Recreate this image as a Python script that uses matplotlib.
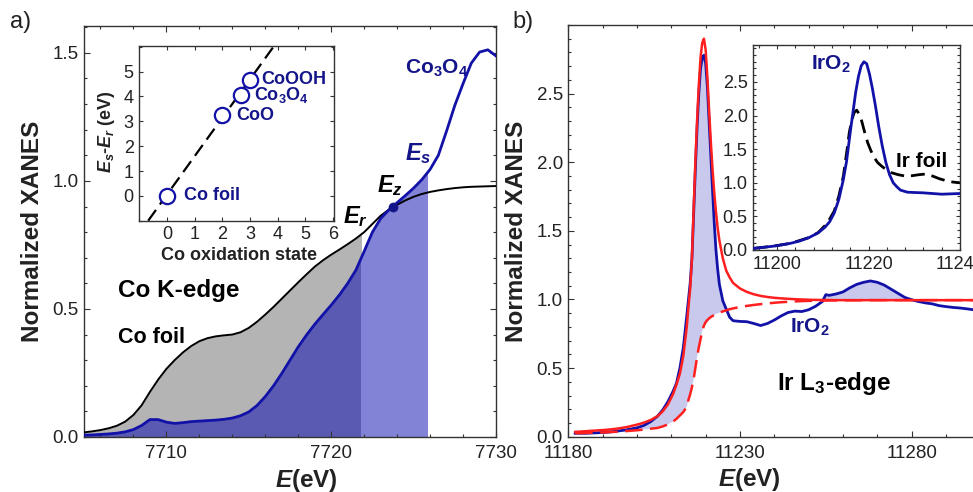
import numpy as np
import matplotlib
matplotlib.use("Agg")
import matplotlib.pyplot as plt
from matplotlib.ticker import MultipleLocator, FixedLocator
from matplotlib.patches import Rectangle

plt.rcParams['font.family'] = ['Liberation Sans', 'DejaVu Sans']
plt.rcParams['mathtext.fontset'] = 'custom'
plt.rcParams['mathtext.rm'] = 'Liberation Sans:bold'
plt.rcParams['mathtext.bf'] = 'Liberation Sans:bold'
plt.rcParams['mathtext.it'] = 'Liberation Sans:italic:bold'

# ---------------- a) Co K-edge ----------------
energy_co = np.arange(7705.0, 7730.01, 0.5)
co_foil = [0.018, 0.022, 0.027, 0.034, 0.044, 0.060, 0.086, 0.124, 0.176, 0.224,
           0.266, 0.300, 0.330, 0.355, 0.374, 0.386, 0.393, 0.397, 0.400, 0.409,
           0.426, 0.450, 0.478, 0.508, 0.540, 0.572, 0.604, 0.635, 0.665, 0.690,
           0.712, 0.732, 0.753, 0.775, 0.800, 0.832, 0.864, 0.888, 0.907, 0.924,
           0.938, 0.949, 0.957, 0.963, 0.968, 0.972, 0.975, 0.977, 0.978, 0.979,
           0.980]
co3o4 = [0.007, 0.008, 0.010, 0.012, 0.015, 0.020, 0.029, 0.045, 0.068, 0.068,
         0.058, 0.053, 0.056, 0.060, 0.062, 0.064, 0.066, 0.069, 0.074, 0.083,
         0.098, 0.123, 0.158, 0.200, 0.248, 0.300, 0.352, 0.398, 0.440, 0.478,
         0.515, 0.555, 0.600, 0.652, 0.725, 0.800, 0.853, 0.887, 0.915, 0.943,
         0.972, 1.005, 1.045, 1.100, 1.195, 1.295, 1.380, 1.460, 1.503, 1.512,
         1.488]
E_r, E_s = 7721.8, 7725.8
E_z, xanes_z = 7723.75, 0.898

# inset: edge shift vs oxidation state
ox_state = [0, 2, 2.67, 3]
shift = [0.0, 3.25, 4.07, 4.66]
ox_names = ['Co foil', 'CoO', 'Co$_3$O$_4$', 'CoOOH']
fit_x = [-0.68, 3.85]
fit_y = [-1.0, 6.0]

# ---------------- b) Ir L3-edge ----------------
energy_ir = [11182, 11185, 11188, 11191, 11194, 11197, 11200, 11202, 11204, 11206,
             11207.5, 11209, 11210.5, 11211.5, 11212.5, 11213.5, 11214.5, 11215, 11215.5, 11216,
             11216.5, 11217, 11217.5, 11218, 11218.5, 11219, 11219.5, 11220, 11220.5, 11221,
             11221.5, 11222, 11222.5, 11223, 11223.5, 11224, 11225, 11226, 11226.5, 11227,
             11228, 11230, 11232, 11234, 11236, 11238, 11240, 11242, 11244, 11246,
             11248, 11250, 11252, 11254, 11255, 11256, 11258, 11260, 11262, 11264,
             11266, 11268, 11270, 11272, 11274, 11276, 11278, 11280, 11282, 11284,
             11286, 11288, 11290, 11292, 11294, 11296, 11298, 11300]
iro2 = [0.025, 0.025, 0.028, 0.032, 0.040, 0.050, 0.065, 0.082, 0.110, 0.150,
        0.195, 0.255, 0.330, 0.390, 0.500, 0.650, 0.880, 1.000, 1.120, 1.300,
        1.620, 1.950, 2.250, 2.500, 2.680, 2.760, 2.780, 2.720, 2.550, 2.300,
        2.050, 1.800, 1.560, 1.360, 1.220, 1.110, 0.990, 0.930, 0.900, 0.870,
        0.845, 0.840, 0.838, 0.825, 0.810, 0.825, 0.850, 0.880, 0.905, 0.915,
        0.912, 0.925, 0.950, 0.985, 1.035, 1.030, 1.040, 1.055, 1.085, 1.110,
        1.125, 1.135, 1.125, 1.105, 1.075, 1.045, 1.015, 0.998, 0.985, 0.975,
        0.968, 0.955, 0.948, 0.942, 0.938, 0.932, 0.925, 0.915]
fit_total = [0.035, 0.040, 0.045, 0.050, 0.058, 0.070, 0.088, 0.102, 0.122, 0.150,
             0.185, 0.235, 0.310, 0.380, 0.460, 0.590, 0.800, 0.950, 1.080, 1.300,
             1.650, 2.000, 2.300, 2.560, 2.760, 2.870, 2.900, 2.820, 2.620, 2.380,
             2.150, 1.950, 1.780, 1.640, 1.520, 1.430, 1.300, 1.210, 1.185, 1.160,
             1.120, 1.080, 1.055, 1.038, 1.026, 1.018, 1.012, 1.008, 1.005, 1.002,
             1.000, 0.998, 0.997, 0.996, 0.996, 0.996, 0.995, 0.995, 0.995, 0.995,
             0.995, 0.995, 0.995, 0.995, 0.995, 0.995, 0.995, 0.995, 0.995, 0.995,
             0.995, 0.995, 0.995, 0.995, 0.995, 0.995, 0.995, 0.995]
fit_step = [0.025, 0.027, 0.029, 0.032, 0.036, 0.041, 0.047, 0.052, 0.058, 0.064,
            0.075, 0.090, 0.110, 0.130, 0.155, 0.180, 0.220, 0.270, 0.310, 0.360,
            0.420, 0.500, 0.580, 0.650, 0.710, 0.770, 0.810, 0.835, 0.850, 0.862,
            0.872, 0.880, 0.887, 0.893, 0.899, 0.904, 0.913, 0.921, 0.925, 0.929,
            0.935, 0.945, 0.953, 0.960, 0.966, 0.971, 0.976, 0.980, 0.983, 0.986,
            0.988, 0.990, 0.991, 0.992, 0.992, 0.993, 0.993, 0.994, 0.994, 0.994,
            0.995, 0.995, 0.995, 0.995, 0.995, 0.995, 0.995, 0.995, 0.995, 0.995,
            0.995, 0.995, 0.995, 0.995, 0.995, 0.995, 0.995, 0.995]

# inset b: IrO2 vs Ir foil
e_in_iro2 = [11195, 11197, 11199, 11201, 11203, 11205, 11207, 11209, 11210.5, 11211.5,
             11212.5, 11213.5, 11214.5, 11215.2, 11216, 11216.6, 11217.2, 11217.8, 11218.4, 11219,
             11219.6, 11220.2, 11220.8, 11221.5, 11222.2, 11223, 11223.8, 11224.6, 11225.4, 11226.2,
             11227, 11228.5, 11230, 11232, 11234, 11236, 11238, 11240]
in_iro2 = [0.025, 0.040, 0.055, 0.075, 0.100, 0.135, 0.185, 0.255, 0.340, 0.420,
           0.550, 0.750, 1.050, 1.320, 1.750, 2.050, 2.350, 2.580, 2.740, 2.800,
           2.770, 2.620, 2.420, 2.150, 1.850, 1.550, 1.300, 1.120, 1.000, 0.940,
           0.890, 0.860, 0.855, 0.850, 0.840, 0.830, 0.835, 0.840]
e_in_foil = [11195, 11199, 11203, 11207, 11209, 11211, 11212.5, 11213.5, 11214.5, 11215.2,
             11215.8, 11216.4, 11216.9, 11217.4, 11217.9, 11218.5, 11219.2, 11219.8, 11220.5, 11221.2,
             11222, 11223, 11224, 11225, 11226.5, 11228, 11229.5, 11231, 11232.5, 11234,
             11235.5, 11237, 11238.5, 11240]
in_foil = [0.025, 0.055, 0.100, 0.185, 0.260, 0.400, 0.580, 0.800, 1.100, 1.440,
           1.750, 1.950, 2.050, 2.080, 2.030, 1.920, 1.740, 1.600, 1.480, 1.380,
           1.300, 1.240, 1.190, 1.150, 1.120, 1.100, 1.105, 1.120, 1.130, 1.100,
           1.060, 1.030, 1.010, 1.000]

BLUE = '#1212a8'
NAVY = '#15158a'
RED = '#ff1f1f'
TXT = '#222222'


def style_axes(ax, size=13.5):
    for sp in ax.spines.values():
        sp.set_color('#333333')
        sp.set_linewidth(1.0)
    ax.tick_params(which='both', direction='in', top=True, right=True,
                   colors='#333333', labelcolor=TXT, labelsize=size, width=0.8)
    ax.tick_params(which='major', length=4.5, pad=6)
    ax.tick_params(which='minor', length=2.5)


fig = plt.figure(figsize=(9.73, 4.92), dpi=100)

# ---- panel a ----
ax1 = fig.add_axes([0.0863, 0.1118, 0.4235, 0.8354])
style_axes(ax1)
ax1.tick_params(axis='y', which='major', pad=4)
ax1.set_xlim(7705, 7730)
ax1.set_ylim(0, 1.605)
ax1.xaxis.set_major_locator(FixedLocator([7710, 7720, 7730]))
ax1.xaxis.set_minor_locator(MultipleLocator(2))
ax1.yaxis.set_major_locator(FixedLocator([0.0, 0.5, 1.0, 1.5]))
ax1.yaxis.set_minor_locator(MultipleLocator(0.1))
ax1.yaxis.set_major_formatter(plt.FormatStrFormatter('%.1f'))

f_gray = ax1.fill_between(energy_co, co3o4, co_foil, color='#b4b4b4', lw=0, zorder=1)
f_dark = ax1.fill_between(energy_co, 0, co3o4, color='#5a5ab2', lw=0, zorder=1)
f_light = ax1.fill_between(energy_co, 0, co3o4, color='#8282d6', lw=0, zorder=1)
f_gray.set_clip_path(Rectangle((7700, -1), E_r - 7700, 5, transform=ax1.transData))
f_dark.set_clip_path(Rectangle((7700, -1), E_r - 7700, 5, transform=ax1.transData))
f_light.set_clip_path(Rectangle((E_r, -1), E_s - E_r, 5, transform=ax1.transData))
ax1.plot(energy_co, co_foil, color='black', lw=1.4, zorder=3)
ax1.plot(energy_co, co3o4, color=BLUE, lw=2.0, zorder=4)
ax1.plot([E_z], [xanes_z], 'o', color=NAVY, ms=6, zorder=5)

ax1.set_ylabel('Normalized XANES', fontsize=17.5, fontweight='bold', color=TXT)
ax1.yaxis.set_label_coords(-0.098, 0.5)
ax1.set_xlabel('$\\mathit{E}$(eV)', fontsize=17.5, fontweight='bold', color=TXT)
ax1.xaxis.set_label_coords(0.54, -0.072)

ax1.text(7724.45, 1.44, 'Co$_3$O$_4$', color=NAVY, fontsize=15, fontweight='bold', va='center')
ax1.text(7725.25, 1.108, '$\\mathit{E}_\\mathit{s}$', color=NAVY, fontsize=17, ha='center', va='center')
ax1.text(7723.55, 0.98, '$\\mathit{E}_\\mathit{z}$', color='black', fontsize=17, ha='center', va='center')
ax1.text(7721.5, 0.86, '$\\mathit{E}_\\mathit{r}$', color='black', fontsize=17, ha='center', va='center')
ax1.text(7707.06, 0.573, 'Co K-edge', color='black', fontsize=17.5, fontweight='bold', va='center')
ax1.text(7707.06, 0.39, 'Co foil', color='black', fontsize=15.5, fontweight='bold', va='center')
fig.text(0.021, 0.955, 'a)', fontsize=17, color=TXT, ha='center', va='center')

# inset a
ax1i = fig.add_axes([0.1432, 0.5514, 0.2004, 0.3551])
style_axes(ax1i, size=13)
ax1i.tick_params(which='major', length=3, pad=4)
ax1i.set_xlim(-1, 6.05)
ax1i.set_ylim(-1, 6.03)
ax1i.xaxis.set_major_locator(FixedLocator([0, 1, 2, 3, 4, 5, 6]))
ax1i.yaxis.set_major_locator(FixedLocator([0, 1, 2, 3, 4, 5]))
ax1i.xaxis.set_minor_locator(MultipleLocator(1))
ax1i.yaxis.set_minor_locator(MultipleLocator(1))
ax1i.plot(fit_x, fit_y, color='black', lw=1.6, dashes=(6, 3), zorder=2)
ax1i.plot(ox_state, shift, 'o', ms=11, mfc='white', mec=BLUE, mew=1.6, zorder=3)
label_pos = [(0.63, 0.0), (2.5, 3.23), (3.16, 4.07), (3.41, 4.67)]
for name, (lx, ly) in zip(ox_names, label_pos):
    ax1i.text(lx, ly, name, color=NAVY, fontsize=13, fontweight='bold', va='center')
ax1i.set_xlabel('Co oxidation state', fontsize=13, fontweight='bold', color=TXT)
ax1i.xaxis.set_label_coords(0.51, -0.15)
ax1i.set_ylabel('$\\mathit{E}_\\mathit{s}$-$\\mathit{E}_\\mathit{r}$ (eV)', fontsize=13,
                fontweight='bold', color=TXT)
ax1i.yaxis.set_label_coords(-0.112, 0.51)

# ---- panel b ----
ax2 = fig.add_axes([0.5841, 0.1124, 0.4234, 0.8368])
style_axes(ax2)
ax2.tick_params(axis='y', which='major', pad=4)
ax2.set_xlim(11180, 11300)
ax2.set_ylim(0, 3.0)
ax2.xaxis.set_major_locator(FixedLocator([11180, 11230, 11280]))
ax2.xaxis.set_minor_locator(MultipleLocator(10))
ax2.yaxis.set_major_locator(FixedLocator([0.0, 0.5, 1.0, 1.5, 2.0, 2.5]))
ax2.yaxis.set_minor_locator(MultipleLocator(0.1))
ax2.yaxis.set_major_formatter(plt.FormatStrFormatter('%.1f'))

e_arr = np.array(energy_ir)
b_arr = np.array(iro2)
s_arr = np.array(fit_step)
ax2.fill_between(e_arr, s_arr, b_arr, where=(b_arr >= s_arr), interpolate=True,
                 color='#c9c9ee', lw=0, zorder=1)
ax2.plot(energy_ir, iro2, color=BLUE, lw=2.0, zorder=3)
ax2.plot(energy_ir, fit_total, color=RED, lw=1.8, zorder=4)
ax2.plot(energy_ir, fit_step, color=RED, lw=1.8, dashes=(7, 3), zorder=4)

ax2.set_ylabel('Normalized XANES', fontsize=17.5, fontweight='bold', color=TXT)
ax2.yaxis.set_label_coords(-0.098, 0.5)
ax2.set_xlabel('$\\mathit{E}$(eV)', fontsize=17.5, fontweight='bold', color=TXT)
ax2.xaxis.set_label_coords(0.4386, -0.072)
ax2.text(11244.5, 0.80, 'IrO$_2$', color=NAVY, fontsize=15, fontweight='bold', va='center')
ax2.text(11240.7, 0.39, 'Ir L$_3$-edge', color='black', fontsize=17.5, fontweight='bold', va='center')
fig.text(0.537, 0.955, 'b)', fontsize=17, color=TXT, ha='center', va='center')

# inset b
ax2i = fig.add_axes([0.7742, 0.4919, 0.2124, 0.4167])
style_axes(ax2i, size=13)
ax2i.tick_params(which='major', length=3, pad=4)
ax2i.set_xlim(11194.8, 11240)
ax2i.set_ylim(0, 3.05)
ax2i.xaxis.set_major_locator(FixedLocator([11200, 11220, 11240]))
ax2i.xaxis.set_minor_locator(MultipleLocator(4))
ax2i.yaxis.set_major_locator(FixedLocator([0.0, 0.5, 1.0, 1.5, 2.0, 2.5]))
ax2i.yaxis.set_minor_locator(MultipleLocator(0.1))
ax2i.yaxis.set_major_formatter(plt.FormatStrFormatter('%.1f'))
ax2i.plot(e_in_foil, in_foil, color='black', lw=2.0, dashes=(5, 2.5), zorder=2)
ax2i.plot(e_in_iro2, in_iro2, color=BLUE, lw=2.0, zorder=3)
ax2i.text(11207.5, 2.76, 'IrO$_2$', color=NAVY, fontsize=15, fontweight='bold', va='center')
ax2i.text(11226.1, 1.31, 'Ir foil', color='black', fontsize=15, fontweight='bold', va='center')

fig.savefig('out.png', dpi=100)
